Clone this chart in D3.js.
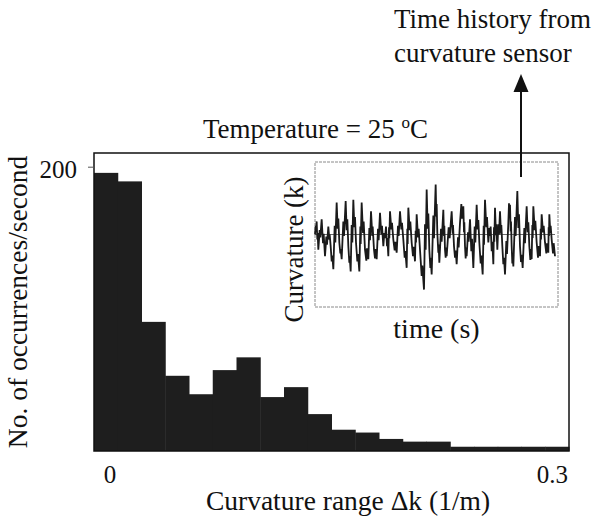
<!DOCTYPE html>
<html>
<head>
<meta charset="utf-8">
<script src="https://cdn.jsdelivr.net/npm/d3@7"></script>
<style>
  html, body { margin: 0; padding: 0; background: #fff; }
  svg { display: block; }
  text { font-family: "Liberation Serif", "Times New Roman", serif; fill: #111; }
</style>
</head>
<body>
<script>
// ---------------- data ----------------
// histogram: bin start (1/m), bin width 0.015, occurrences/second
const binStarts = [0, 0.015, 0.03, 0.045, 0.06, 0.075, 0.09, 0.105, 0.12, 0.135,
                   0.15, 0.165, 0.18, 0.195, 0.21, 0.225, 0.24, 0.255, 0.27, 0.285];
const binWidth = 0.015;
const occurrences = [196, 190, 91, 53, 40, 57, 66, 38, 45, 26,
                     15, 13, 8.5, 6.6, 6.6, 3, 3, 3, 3, 3];
const xTickValues = [0, 0.3];
const xTickLabels = ["0", "0.3"];
const yTickValues = [200];
const yTickLabels = ["200"];

// inset: time history from curvature sensor, [time, curvature] (arbitrary units)
const insetSamples = [
  [0,0.00],[0.2,0.12],[0.3,0.07],[0.5,0.18],[0.7,-0.07],[0.8,0.02],[1.0,-0.21],[1.4,0.06],[1.6,-0.04],
  [2.0,0.21],[2.4,-0.12],[2.6,0.01],[3.0,-0.30],[3.4,-0.03],[3.6,-0.14],[4.0,0.11],[4.3,-0.07],[4.4,0.00],
  [4.7,-0.16],[5.0,-0.37],[5.2,-0.29],[5.5,-0.48],[5.9,0.12],[6.1,-0.11],[6.5,0.44],[6.8,0.08],[7.0,0.22],
  [7.3,-0.11],[7.6,-0.26],[7.7,-0.20],[8.0,-0.34],[8.5,0.18],[8.7,-0.02],[9.2,0.46],[9.5,0.06],[9.7,0.21],
  [10.0,-0.16],[10.3,-0.39],[10.4,-0.30],[10.7,-0.51],[11.0,0.13],[11.2,-0.11],[11.5,0.48],[11.8,0.10],[12.0,0.24],
  [12.3,-0.11],[12.7,-0.37],[12.9,-0.27],[13.3,-0.51],[13.6,0.11],[13.7,-0.13],[14.0,0.44],[14.4,0.02],[14.6,0.18],
  [15.0,-0.21],[15.4,-0.36],[15.6,-0.19],[16.0,-0.34],[16.3,0.09],[16.5,-0.08],[16.8,0.32],[17.2,-0.02],[17.3,0.11],
  [17.7,-0.21],[18.0,-0.33],[18.2,-0.20],[18.5,-0.34],[18.9,0.08],[19.1,-0.08],[19.5,0.30],[19.9,0.00],[20.1,0.12],
  [20.5,-0.16],[20.8,0.02],[21.0,-0.05],[21.3,0.11],[21.6,-0.16],[21.7,-0.05],[22.0,-0.30],[22.2,0.10],[22.3,-0.05],
  [22.5,0.32],[22.9,0.07],[23.1,0.16],[23.5,-0.07],[23.9,-0.22],[24.1,-0.10],[24.5,-0.25],[24.9,0.12],[25.1,-0.02],
  [25.5,0.32],[25.9,0.07],[26.1,0.16],[26.5,-0.07],[26.9,-0.32],[27.1,-0.23],[27.5,-0.46],[27.7,0.08],[27.8,-0.13],
  [28.0,0.37],[28.4,0.06],[28.6,0.18],[29.0,-0.11],[29.4,-0.30],[29.6,-0.17],[30.0,-0.37],[30.2,0.05],[30.3,-0.11],
  [30.5,0.28],[30.9,-0.04],[31.1,0.08],[31.5,-0.21],[32.0,-0.57],[32.2,-0.43],[32.7,-0.76],[33.0,0.14],[33.2,-0.21],
  [33.5,0.62],[33.8,0.08],[34.0,0.29],[34.3,-0.21],[34.6,-0.46],[34.7,-0.32],[35.0,-0.55],[35.5,0.26],[35.7,-0.05],
  [36.2,0.69],[36.4,0.25],[36.5,0.42],[36.7,0.02],[37.0,-0.25],[37.1,-0.14],[37.3,-0.39],[37.8,0.08],[38.0,-0.10],
  [38.5,0.34],[38.7,-0.02],[38.8,0.12],[39.0,-0.21],[39.2,-0.32],[39.3,-0.18],[39.5,-0.30],[40.1,0.10],[40.4,-0.05],
  [41.0,0.32],[41.3,0.01],[41.4,0.13],[41.7,-0.16],[42.0,-0.32],[42.2,-0.22],[42.5,-0.41],[42.9,-0.04],[43.1,-0.18],
  [43.5,0.16],[43.9,0.42],[44.1,0.22],[44.5,0.39],[44.7,0.03],[44.8,0.17],[45.0,-0.16],[45.2,-0.33],[45.3,-0.18],
  [45.5,-0.30],[45.9,0.03],[46.1,-0.10],[46.5,0.21],[46.9,-0.23],[47.1,-0.06],[47.5,-0.46],[47.9,0.11],[48.1,-0.11],
  [48.5,0.41],[48.8,0.07],[49.0,0.20],[49.3,-0.11],[49.7,-0.40],[49.9,-0.29],[50.3,-0.55],[50.6,0.12],[50.7,-0.14],
  [51.0,0.48],[51.4,0.10],[51.6,0.24],[52.0,-0.11],[52.3,0.09],[52.4,-0.02],[52.7,0.11],[53.0,-0.23],[53.2,-0.10],
  [53.5,-0.41],[53.7,0.10],[53.8,-0.10],[54.0,0.37],[54.3,-0.01],[54.4,0.14],[54.7,-0.21],[55.0,0.14],[55.2,0.00],
  [55.5,0.32],[55.8,0.01],[55.9,0.13],[56.2,-0.16],[56.5,-0.41],[56.7,-0.32],[57.0,-0.55],[57.4,-0.09],[57.6,-0.27],
  [58.0,0.16],[58.2,0.43],[58.3,0.25],[58.5,0.41],[58.7,0.04],[58.8,0.18],[59.0,-0.16],[59.2,-0.40],[59.3,-0.26],
  [59.5,-0.44],[60.0,0.24],[60.2,-0.02],[60.7,0.60],[61.0,0.09],[61.2,0.28],[61.5,-0.16],[61.8,-0.38],[62.0,-0.28],
  [62.3,-0.46],[62.8,0.09],[63.0,-0.12],[63.5,0.39],[63.8,0.03],[64.0,0.17],[64.3,-0.16],[64.6,-0.35],[64.7,-0.20],
  [65.0,-0.34],[65.2,0.13],[65.3,-0.05],[65.5,0.39],[65.9,0.06],[66.1,0.19],[66.5,-0.11],[66.9,-0.32],[67.1,-0.16],
  [67.5,-0.30],[67.7,0.08],[67.8,-0.07],[68.0,0.28],[68.4,0.03],[68.6,0.12],[69.0,-0.11],[69.4,-0.26],[69.6,-0.12],
  [70.0,-0.25],[70.1,0.10],[70.2,-0.02],[70.3,0.28],[70.6,0.02],[70.7,0.12],[71.0,-0.07],[71.4,-0.26],[71.6,-0.12],
  [72.0,-0.30]
];

// ---------------- layout ----------------
const W = 597, H = 525;
const plot = { left: 94, top: 153, right: 569, bottom: 451 };
const inset = { left: 315, top: 162, right: 558, bottom: 307 };

const svg = d3.select("body").append("svg").attr("width", W).attr("height", H);

const x = d3.scaleLinear().domain([0, 0.3]).range([plot.left, plot.right]);
const y = d3.scaleLinear().domain([0, 210]).range([plot.bottom, plot.top]);

// bars
svg.append("g").selectAll("rect")
  .data(binStarts.map((s, i) => ({ s, v: occurrences[i] })))
  .join("rect")
  .attr("x", d => x(d.s))
  .attr("width", d => x(d.s + binWidth) - x(d.s) + 0.5)
  .attr("y", d => y(d.v))
  .attr("height", d => y(0) - y(d.v))
  .attr("fill", "#1e1e1e");

// frame
svg.append("rect")
  .attr("x", plot.left).attr("y", plot.top)
  .attr("width", plot.right - plot.left).attr("height", plot.bottom - plot.top)
  .attr("fill", "none").attr("stroke", "#111").attr("stroke-width", 1.5);

// y ticks + labels
svg.append("g").selectAll("line").data(yTickValues).join("line")
  .attr("x1", plot.left - 6).attr("x2", plot.left)
  .attr("y1", d => y(d)).attr("y2", d => y(d))
  .attr("stroke", "#555").attr("stroke-width", 1);
svg.append("g").selectAll("text").data(yTickValues).join("text")
  .attr("x", plot.left - 17).attr("y", d => y(d))
  .attr("dy", "0.45em").attr("text-anchor", "end")
  .attr("font-size", 25)
  .text((d, i) => yTickLabels[i]);

// x tick labels
svg.append("g").selectAll("text").data(xTickValues).join("text")
  .attr("x", (d, i) => i === 0 ? x(d) + 16 : x(d) - 1)
  .attr("y", plot.bottom + 32)
  .attr("text-anchor", (d, i) => i === 0 ? "middle" : "end")
  .attr("font-size", 25)
  .text((d, i) => xTickLabels[i]);

// axis titles
svg.append("text")
  .attr("x", 348).attr("y", 510)
  .attr("text-anchor", "middle").attr("font-size", 27.5)
  .text("Curvature range \u0394k (1/m)");

svg.append("text")
  .attr("transform", `translate(27, ${(plot.top + plot.bottom) / 2}) rotate(-90)`)
  .attr("text-anchor", "middle").attr("font-size", 27.5)
  .text("No. of occurrences/second");

// temperature title
const tt = svg.append("text")
  .attr("x", 203).attr("y", 138)
  .attr("font-size", 27);
tt.append("tspan").text("Temperature = 25 ");
tt.append("tspan").attr("font-size", 17).attr("dy", -10).text("o");
tt.append("tspan").attr("dy", 10).text("C");

// ---------------- inset ----------------
svg.append("rect")
  .attr("x", inset.left).attr("y", inset.top)
  .attr("width", inset.right - inset.left).attr("height", inset.bottom - inset.top)
  .attr("fill", "#fff").attr("stroke", "#8a8a8a").attr("stroke-width", 1)
  .attr("stroke-dasharray", "3,1");

const xi = d3.scaleLinear().domain([0, 72]).range([inset.left, inset.right - 3]);
const yi = d3.scaleLinear().domain([-1, 1]).range([inset.bottom, inset.top]);

svg.append("line")
  .attr("x1", inset.left).attr("x2", inset.right - 3)
  .attr("y1", yi(0)).attr("y2", yi(0))
  .attr("stroke", "#444").attr("stroke-width", 0.8);

svg.append("path")
  .datum(insetSamples)
  .attr("d", d3.line().x(d => xi(d[0])).y(d => yi(d[1])))
  .attr("fill", "none").attr("stroke", "#1a1a1a").attr("stroke-width", 1.8)
  .attr("stroke-linejoin", "miter");

svg.append("text")
  .attr("transform", `translate(303, ${(inset.top + inset.bottom) / 2 + 15}) rotate(-90)`)
  .attr("text-anchor", "middle").attr("font-size", 27)
  .text("Curvature (k)");

svg.append("text")
  .attr("x", (inset.left + inset.right) / 2).attr("y", 338)
  .attr("text-anchor", "middle").attr("font-size", 28)
  .text("time (s)");

// annotation with arrow
const ax = 521;
svg.append("line")
  .attr("x1", ax).attr("x2", ax).attr("y1", 177).attr("y2", 90)
  .attr("stroke", "#111").attr("stroke-width", 2);
svg.append("path")
  .attr("d", d3.line()([[ax, 74], [ax - 7.5, 92], [ax + 7.5, 92]]) + "Z")
  .attr("fill", "#111");

const ann = svg.append("text").attr("font-size", 27);
ann.append("tspan").attr("x", 394).attr("y", 28).text("Time history from");
ann.append("tspan").attr("x", 394).attr("y", 62).text("curvature sensor");
</script>
</body>
</html>
